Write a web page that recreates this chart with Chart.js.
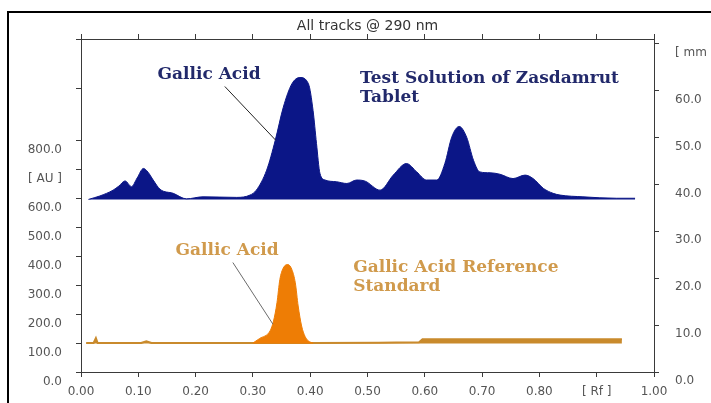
<!DOCTYPE html>
<html>
<head>
<meta charset="utf-8">
<script src="https://cdn.jsdelivr.net/npm/chart.js@4.4.0/dist/chart.umd.min.js"></script>
<style>
  body { margin: 0; background: #fff; }
  canvas { display: block; }
</style>
</head>
<body>
<canvas id="chromChart" width="711" height="403"></canvas>
<script>
// Track 1: test solution (stacked above the reference, baseline ~596 AU)
const testRf = [0.013, 0.033, 0.056, 0.066, 0.077, 0.088, 0.098, 0.109, 0.117, 0.126, 0.138, 0.161, 0.184, 0.213,
  0.272, 0.295, 0.306, 0.324, 0.339, 0.353, 0.368, 0.382, 0.397, 0.405, 0.411, 0.417, 0.426, 0.446, 0.464, 0.481,
  0.496, 0.522, 0.545, 0.568, 0.586, 0.603, 0.621, 0.635, 0.647, 0.660, 0.673, 0.685, 0.696, 0.714, 0.731, 0.754,
  0.775, 0.789, 0.807, 0.824, 0.836, 0.876, 0.935, 0.967];
const testAU = [596, 608, 628, 642, 660, 640, 670, 703, 690, 663, 631, 617, 598, 605,
  603, 611, 628, 697, 800, 914, 995, 1017, 995, 903, 789, 686, 663, 657, 651, 663,
  659, 628, 680, 720, 691, 663, 663, 720, 811, 848, 811, 731, 691, 688, 683, 668,
  680, 668, 634, 617, 611, 605, 600, 600];
const testBase = 596;

// Track 2: gallic acid reference standard
const refPeakRf = [0.300, 0.312, 0.330, 0.336, 0.342, 0.347, 0.353, 0.361, 0.368, 0.374, 0.379, 0.385, 0.391, 0.397, 0.405];
const refPeakAU = [100, 116, 142, 176, 239, 319, 359, 371, 354, 308, 228, 159, 123, 107, 100];
const refBaseRf = [0.009, 0.022, 0.026, 0.029, 0.105, 0.114, 0.123, 0.300, 0.405, 0.520, 0.550, 0.590, 0.596, 0.944];
const refBaseAU = [100, 100, 117, 100, 100, 106, 100, 100, 100, 101, 102, 103, 113, 113];
const refBase = 98;

const rfTicks = [0, 0.1, 0.2, 0.3, 0.4, 0.5, 0.6, 0.7, 0.8, 0.9, 1.0];
const auTicks = [0, 100, 200, 300, 400, 500, 600, 700, 800, 980, 1150];
const mmTicks = [0, 10, 20, 30, 40, 50, 60, 70];

const navy = '#0b1687';
const navyText = '#22296b';
const orange = '#ee7d05';
const gold = '#c98a2c';
const goldText = '#d09a4c';
const axisColor = '#3a3a3a';
const labelColor = '#555555';

const notes = [
  { text: 'Gallic Acid', rf: 0.2234, au: 1027, color: navyText, align: 'center' },
  { text: 'Test Solution of Zasdamrut', rf: 0.487, au: 1013, color: navyText, align: 'left' },
  { text: 'Tablet', rf: 0.487, au: 948, color: navyText, align: 'left' },
  { text: 'Gallic Acid', rf: 0.255, au: 420, color: goldText, align: 'center' },
  { text: 'Gallic Acid Reference', rf: 0.475, au: 360, color: goldText, align: 'left' },
  { text: 'Standard', rf: 0.475, au: 295, color: goldText, align: 'left' }
];
const leaders = [
  { from: [0.251, 986], to: [0.340, 800], color: '#222' },
  { from: [0.265, 378], to: [0.335, 165], color: '#6b6b6b' }
];

const toPoints = (xs, ys) => xs.map((x, i) => ({ x: x, y: ys[i] }));

const frameAndNotes = {
  id: 'frameAndNotes',
  afterDraw(chart) {
    const ctx = chart.ctx;
    const xs = chart.scales.x, ys = chart.scales.y;
    ctx.save();
    ctx.strokeStyle = '#000';
    ctx.lineWidth = 2;
    ctx.strokeRect(8, 12, 800, 500);

    leaders.forEach(l => {
      ctx.strokeStyle = l.color;
      ctx.lineWidth = 1;
      ctx.beginPath();
      ctx.moveTo(xs.getPixelForValue(l.from[0]), ys.getPixelForValue(l.from[1]));
      ctx.lineTo(xs.getPixelForValue(l.to[0]), ys.getPixelForValue(l.to[1]));
      ctx.stroke();
    });

    ctx.font = 'bold 17px "DejaVu Serif"';
    ctx.textBaseline = 'middle';
    notes.forEach(n => {
      ctx.fillStyle = n.color;
      ctx.textAlign = n.align;
      ctx.fillText(n.text, xs.getPixelForValue(n.rf), ys.getPixelForValue(n.au));
    });
    ctx.restore();
  }
};

const tickFont = { family: 'DejaVu Sans', size: 12 };

new Chart(document.getElementById('chromChart'), {
  type: 'line',
  data: {
    datasets: [
      {
        label: 'Test solution',
        data: toPoints(testRf, testAU),
        borderColor: navy,
        backgroundColor: navy,
        borderWidth: 1,
        fill: { value: testBase },
        cubicInterpolationMode: 'monotone',
        pointRadius: 0
      },
      {
        label: 'Reference peak',
        data: toPoints(refPeakRf, refPeakAU),
        borderColor: orange,
        backgroundColor: orange,
        borderWidth: 1,
        fill: { value: refBase },
        cubicInterpolationMode: 'monotone',
        pointRadius: 0
      },
      {
        label: 'Reference baseline',
        data: toPoints(refBaseRf, refBaseAU),
        borderColor: gold,
        backgroundColor: gold,
        borderWidth: 2,
        fill: { value: refBase },
        pointRadius: 0
      }
    ]
  },
  options: {
    responsive: false,
    animation: false,
    devicePixelRatio: 1,
    layout: { padding: 0 },
    plugins: {
      legend: { display: false },
      tooltip: { enabled: false }
    },
    scales: {
      x: {
        type: 'linear',
        position: 'bottom',
        min: 0,
        max: 1,
        afterBuildTicks: s => { s.ticks = rfTicks.map(v => ({ value: v })); },
        afterFit: s => { s.height = 31; },
        grid: { drawOnChartArea: false, tickLength: 5, color: axisColor },
        border: { color: axisColor },
        ticks: {
          padding: 8,
          color: labelColor,
          font: tickFont,
          maxRotation: 0,
          callback: v => (Math.round(v * 10) === 9 ? '[ Rf ]' : v.toFixed(2))
        }
      },
      xTop: {
        type: 'linear',
        position: 'top',
        min: 0,
        max: 1,
        afterBuildTicks: s => { s.ticks = rfTicks.map(v => ({ value: v })); },
        afterFit: s => { s.height = 39; },
        grid: { drawOnChartArea: false, tickLength: 5, color: axisColor },
        border: { color: axisColor },
        ticks: { display: false },
        title: {
          display: true,
          text: 'All tracks @ 290 nm',
          color: '#333',
          font: { family: 'DejaVu Sans', size: 14 },
          padding: { top: 18, bottom: 0 }
        }
      },
      y: {
        type: 'linear',
        position: 'left',
        min: 0,
        max: 1150,
        afterBuildTicks: s => { s.ticks = auTicks.map(v => ({ value: v })); },
        afterFit: s => { s.width = 81; },
        grid: { drawOnChartArea: false, tickLength: 5, color: axisColor },
        border: { color: axisColor },
        ticks: {
          padding: 14,
          labelOffset: 10,
          color: labelColor,
          font: tickFont,
          callback: v => (v === 700 ? '[ AU ]' : v > 800 ? '' : v.toFixed(1))
        }
      },
      yRight: {
        type: 'linear',
        position: 'right',
        min: 0,
        max: 71,
        afterBuildTicks: s => { s.ticks = mmTicks.map(v => ({ value: v })); },
        afterFit: s => { s.width = 57; },
        grid: { drawOnChartArea: false, tickLength: 5, color: axisColor },
        border: { color: axisColor },
        ticks: {
          padding: 16,
          labelOffset: 9,
          color: labelColor,
          font: tickFont,
          callback: v => (v === 70 ? '[ mm ]' : v.toFixed(1))
        }
      }
    }
  },
  plugins: [frameAndNotes]
});
</script>
</body>
</html>
